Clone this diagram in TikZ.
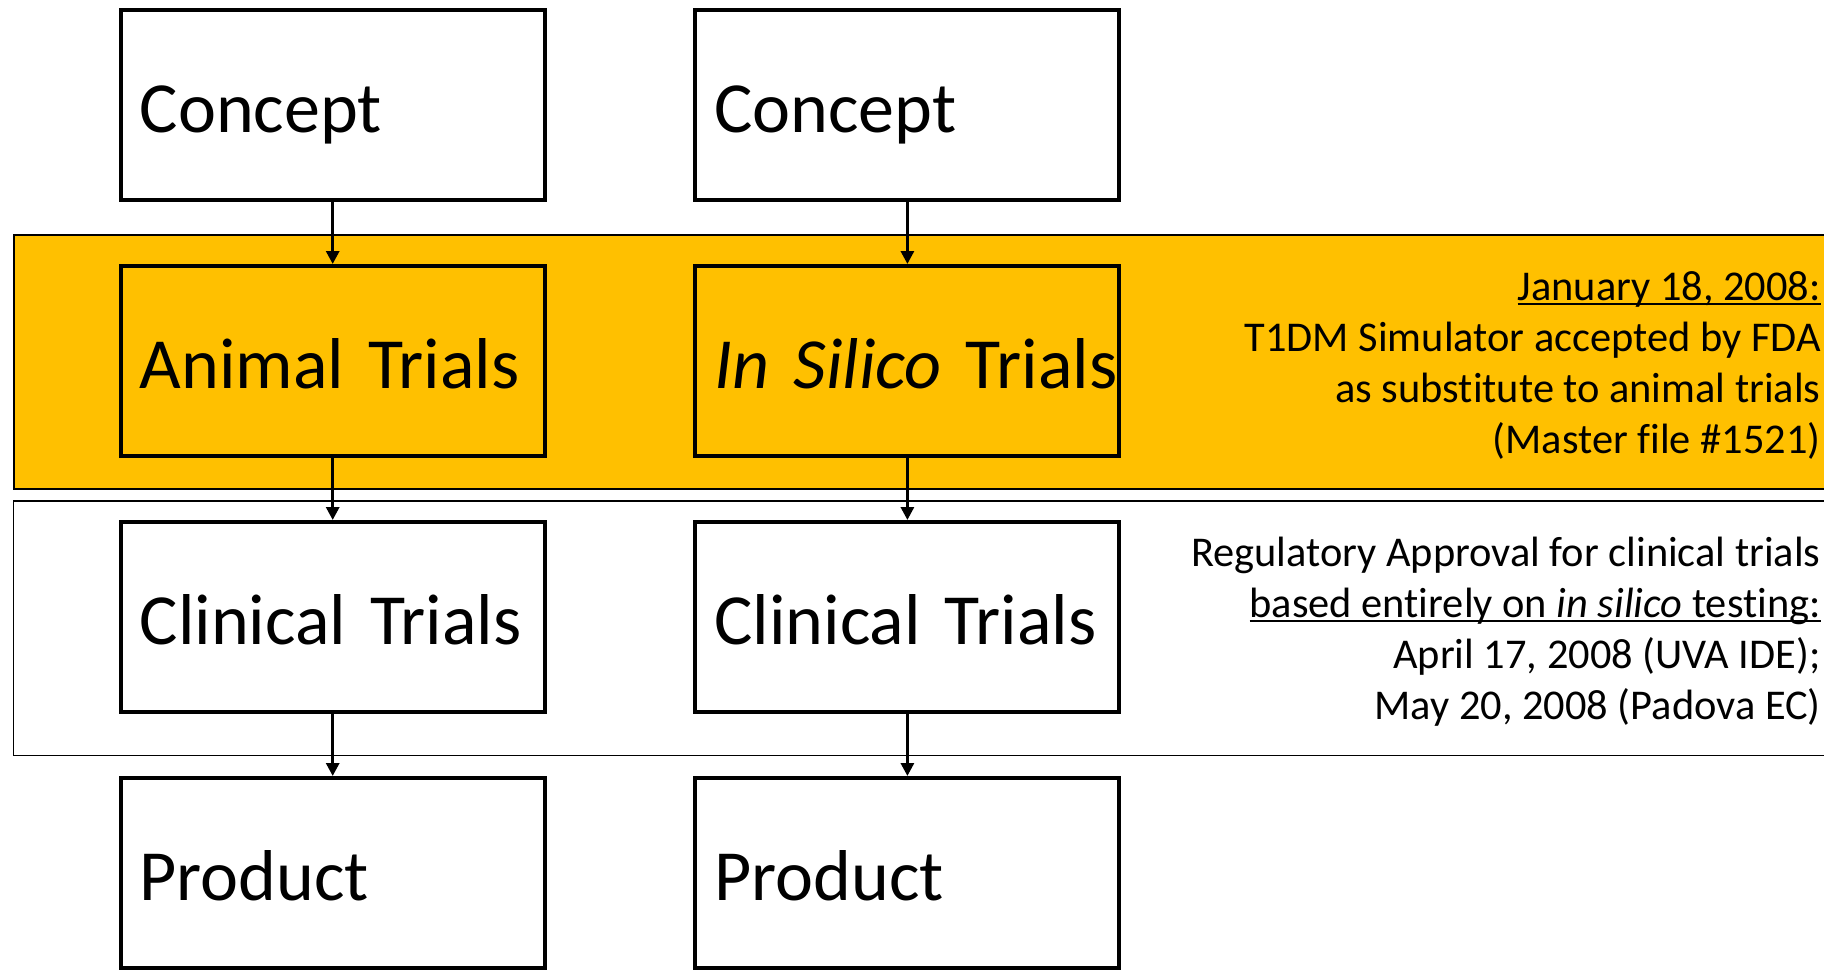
\documentclass[tikz,border=0pt]{standalone}
\usepackage{fontspec}
\setmainfont{Carlito}[Ligatures=NoCommon]
\usetikzlibrary{arrows.meta,positioning}
\definecolor{trialgold}{HTML}{FFC000}
\newsavebox\notebox
\newcommand\undertext[1]{\sbox\notebox{#1}\rlap{\rule[-2.3pt]{\wd\notebox}{1pt}}\usebox\notebox}
\tikzset{stage/.style={rectangle,draw,line width=2pt,fill=white,minimum width=212pt,minimum height=95pt,text width=193pt,text height=27pt,text depth=0pt,inner xsep=9.5pt,align=left,font=\fontsize{36}{43}\selectfont},gold/.style={fill=trialgold},flow/.style={-{Triangle[length=6.5pt,width=6.5pt]},line width=1.5pt},band/.style={draw,line width=1pt},note/.style={anchor=east,inner sep=0pt,align=right,font=\fontsize{21.2}{25.5}\selectfont}}

\begin{document}
\begin{tikzpicture}[x=0.5pt,y=-0.5pt]
\useasboundingbox (0,0) rectangle (1824,969);
\clip (0,0) rectangle (1824,969);
\draw[band,fill=trialgold] (13.8,234.8) rectangle (1840,488.7);
\draw[band,line width=.75pt] (13.5,501) rectangle (1840,755.3);
\foreach \c/\x/\trial in {A/332.7/Animal Trials,B/907.4/{\mbox{\textit{In Silico} Trials}}}{
\node[stage] (concept\c) at (\x,105) {Concept};
\node[stage,gold] (trial\c) at (\x,361) {\mbox{\trial}};
\node[stage] (clinical\c) at (\x,617) {\mbox{Clinical Trials}};
\node[stage] (product\c) at (\x,873) {Product};
\draw[flow] (concept\c)--(trial\c);\draw[flow] (trial\c)--(clinical\c);\draw[flow] (clinical\c)--(product\c);
}
\node[note] (fdanote) at (1821,365.5) {\undertext{January 18, 2008:}\\T1DM Simulator accepted by FDA\\as substitute to animal trials\\(Master file \#1521)};
\node[note] (idenote) at (1821,632) {Regulatory Approval for clinical trials\\\undertext{based entirely on \textit{in silico} testing:}\\April 17, 2008 (UVA IDE);\\May 20, 2008 (Padova EC)};
\end{tikzpicture}
\end{document}
